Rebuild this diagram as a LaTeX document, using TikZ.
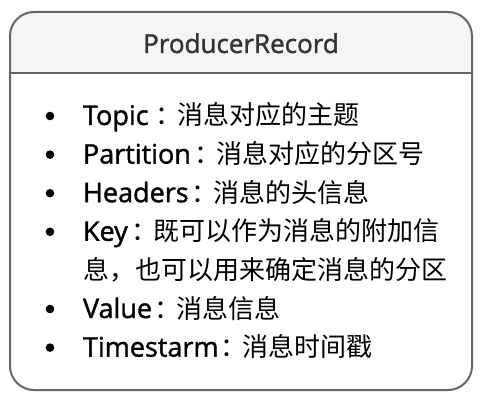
\documentclass[tikz,border=0pt]{standalone}
\usepackage{fontspec}
\newfontfamily\latf[FakeBold=1.3]{Open Sans}
\newfontfamily\cjkf{Noto Sans CJK SC}
\definecolor{boxgray}{RGB}{102,102,102}
\definecolor{headfill}{RGB}{245,245,245}
\definecolor{titlecol}{RGB}{51,51,51}
\newcommand{\lw}[2]{\makebox[#1pt][l]{\latf\fontsize{27}{30}\selectfont #2}}
\newcommand{\cj}[1]{{\cjkf\fontsize{26}{30}\selectfont #1}}
\newcommand{\cc}{\hspace{4pt}：\hspace{-4pt}}
\begin{document}
\begin{tikzpicture}[x=1pt,y=1pt,
  itemtext/.style={anchor=base west, inner sep=0pt, outer sep=0pt, text=black},
  bulletdot/.style={circle, fill=black, draw=none, inner sep=0pt, minimum size=8.6pt},
  frame/.style={draw=boxgray, line width=2pt, rounded corners=24pt, inner sep=0pt,
     minimum width=462pt, minimum height=378pt},
  titletext/.style={anchor=base, inner sep=0pt, text=titlecol, font=\latf\fontsize{26}{30}\selectfont}]
\useasboundingbox (0,0) rectangle (482,402);
% header band
\fill[headfill] (10,329) -- (10,366) arc[start angle=180, end angle=90, radius=24]
  -- (448,390) arc[start angle=90, end angle=0, radius=24] -- (472,329) -- cycle;
\node[frame] (record) at (241,201) {};
\coordinate (divL) at (10,329);
\coordinate (divR) at (472,329);
\draw[boxgray, line width=2pt] (divL) -- (divR);
\node[titletext] (title) at (241,349) {ProducerRecord};
% bullets
\node[bulletdot] (b1) at (50,286) {};
\node[bulletdot] (b2) at (50,247.4) {};
\node[bulletdot] (b3) at (50,208.8) {};
\node[bulletdot] (b4) at (50,170.2) {};
\node[bulletdot] (b5) at (50,93) {};
\node[bulletdot] (b6) at (50,54.4) {};
% items
\node[itemtext] (t1) at (83,277) {\lw{68}{Topic}\cj{\cc 消息对应的主题}};
\node[itemtext] (t2) at (83,238.4) {\lw{107}{Partition}\cj{\cc 消息对应的分区号}};
\node[itemtext] (t3) at (83,199.8) {\lw{104}{Headers}\cj{\cc 消息的头信息}};
\node[itemtext] (t4) at (83,161.2) {\lw{44}{Key}\cj{\cc 既可以作为消息的附加信}};
\node[itemtext] (t4b) at (83,122.6) {\cj{息，也可以用来确定消息的分区}};
\node[itemtext] (t5) at (83,84) {\lw{67}{Value}\cj{\cc 消息信息}};
\node[itemtext] (t6) at (83,45.4) {\lw{133}{Timestarm}\cj{\cc 消息时间戳}};
\end{tikzpicture}
\end{document}
